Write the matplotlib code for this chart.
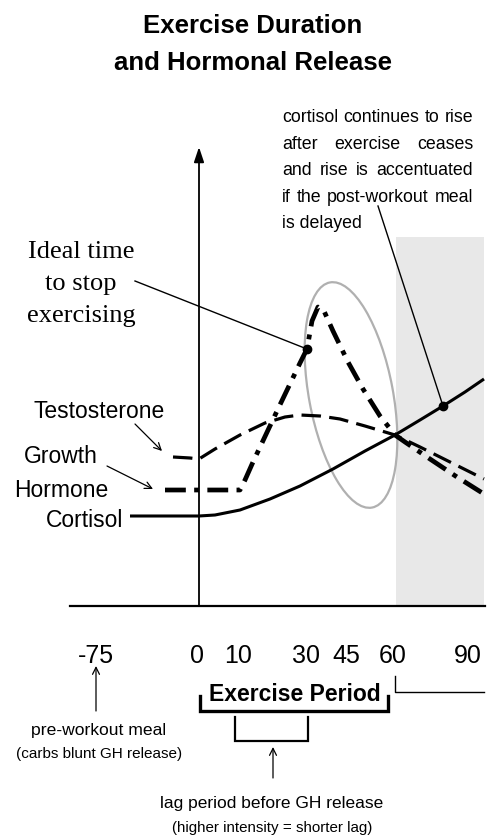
import matplotlib
matplotlib.use("Agg")
import matplotlib.pyplot as plt
from matplotlib.patches import Ellipse, Rectangle

plt.rcParams['font.family'] = ['Liberation Sans', 'DejaVu Sans']
plt.rcParams['lines.scale_dashes'] = False

# schematic curves (x = position along time axis, y = level, screen units)
cortisol_x = [130, 199, 215, 240, 270, 300, 333, 365, 395, 420, 443, 465, 484]
cortisol_y = [517, 517, 516, 511, 500, 487, 470, 452, 436, 421, 407, 393, 380]

testo_x = [173, 190, 199, 215, 240, 265, 285, 300, 320, 340, 365, 395, 420, 450, 484]
testo_y = [458, 459, 460, 450, 436, 424, 418, 416, 417, 420, 427, 436, 448, 463, 480]

gh_x = [165, 240, 245, 253, 277, 300, 307, 312, 318, 324, 333, 348, 363, 380, 395, 405, 430, 457, 484]
gh_y = [491, 491, 481, 463, 412, 364, 350, 322, 308, 312, 332, 363, 390, 417, 436, 443, 460, 478, 495]

tick_labels = ['-75', '0', '10', '30', '45', '60', '90']
tick_x = [96, 197, 238, 306, 346, 393, 468]

note_lines = ["cortisol continues to rise",
              "after exercise ceases",
              "and rise is accentuated",
              "if the post-workout meal",
              "is delayed"]

fig = plt.figure(figsize=(4.87, 8.37), dpi=100)
ax = fig.add_axes([0, 0, 1, 1])
ax.set_xlim(0, 487)
ax.set_ylim(837, 0)
ax.axis('off')

# post-exercise shaded band
ax.add_patch(Rectangle((396, 238), 88, 370, color='#e8e8e8', lw=0, zorder=0))

# axes
ax.plot([70, 485], [607, 607], color='black', lw=1.6)
ax.annotate('', xy=(199, 148), xytext=(199, 607),
            arrowprops=dict(arrowstyle='-|>,head_length=0.9,head_width=0.3',
                            color='black', lw=1.3, shrinkA=0, shrinkB=0))

# ellipse around GH peak
ax.add_patch(Ellipse((351, 396), 229, 84, angle=79.4, fill=False,
                     ec='#b0b0b0', lw=1.6, zorder=1))

# curves
ax.plot(cortisol_x, cortisol_y, color='black', lw=2.2, solid_capstyle='butt')
ax.plot(testo_x, testo_y, color='black', lw=2.3, dashes=(14, 6))
ax.plot(gh_x, gh_y, color='black', lw=3.4, dashes=(15, 6, 3.5, 6))

# markers
ax.plot([307], [350], 'o', color='black', ms=6)
ax.plot([443], [407], 'o', color='black', ms=6)

# title
ax.text(253, 33, 'Exercise Duration', ha='center', va='baseline',
        fontsize=18.5, fontweight='bold')
ax.text(253, 70, 'and Hormonal Release', ha='center', va='baseline',
        fontsize=18.5, fontweight='bold')

# justified note about cortisol
fig.canvas.draw()
renderer = fig.canvas.get_renderer()
left, right = 282, 473
inv = ax.transData.inverted()
for i, line in enumerate(note_lines):
    yb = 122 + i * 26.5
    words = line.split()
    if i == len(note_lines) - 1:
        ax.text(left, yb, line, ha='left', va='baseline', fontsize=12.8)
        continue
    arts = [ax.text(0, yb, w, ha='left', va='baseline', fontsize=12.8) for w in words]
    widths = []
    for a in arts:
        bb = a.get_window_extent(renderer)
        widths.append(bb.width)
    gap = (right - left - sum(widths)) / (len(words) - 1)
    x = left
    for a, w in zip(arts, widths):
        a.set_x(x)
        x += w + gap
ax.plot([378, 443], [207, 407], color='black', lw=1.0)

# ideal time callout
ax.text(81, 258, 'Ideal time', ha='center', va='baseline', fontsize=19,
        family=['Liberation Serif', 'DejaVu Serif'])
ax.text(81, 290, 'to stop', ha='center', va='baseline', fontsize=19,
        family=['Liberation Serif', 'DejaVu Serif'])
ax.text(81, 322, 'exercising', ha='center', va='baseline', fontsize=19,
        family=['Liberation Serif', 'DejaVu Serif'])
ax.plot([135, 307], [282, 350], color='black', lw=1.0)

# curve labels
thin = dict(arrowstyle='->,head_length=0.5,head_width=0.25', color='black',
            lw=0.9, shrinkA=0, shrinkB=0)
ax.text(99, 418, 'Testosterone', ha='center', va='baseline', fontsize=16.5)
ax.annotate('', xy=(162, 452), xytext=(135, 425), arrowprops=thin)
ax.text(61, 463, 'Growth', ha='center', va='baseline', fontsize=16.5)
ax.text(61, 497, 'Hormone', ha='center', va='baseline', fontsize=16.5)
ax.annotate('', xy=(153, 490), xytext=(107, 467), arrowprops=thin)
ax.text(123, 527, 'Cortisol', ha='right', va='baseline', fontsize=16.5)

# time labels
for lab, x in zip(tick_labels, tick_x):
    ax.text(x, 663, lab, ha='center', va='baseline', fontsize=18)

# exercise period bracket
ax.text(295, 701, 'Exercise Period', ha='center', va='baseline',
        fontsize=16.5, fontweight='bold')
ax.plot([200, 200, 388, 388], [697, 712, 712, 697], color='black', lw=2.4,
        solid_joinstyle='miter')
ax.plot([395, 395, 484], [677, 693, 693], color='black', lw=1.0)

# lag bracket
ax.plot([235, 235, 308, 308], [718, 742, 742, 718], color='black', lw=1.6,
        solid_joinstyle='miter')
ax.annotate('', xy=(273, 748), xytext=(273, 779), arrowprops=thin)
ax.text(272, 808, 'lag period before GH release', ha='center', va='baseline',
        fontsize=12.5)
ax.text(272, 832, '(higher intensity = shorter lag)', ha='center', va='baseline',
        fontsize=10.9)

# pre-workout meal
ax.annotate('', xy=(96, 667), xytext=(96, 712), arrowprops=thin)
ax.text(99, 735, 'pre-workout meal', ha='center', va='baseline', fontsize=12.6)
ax.text(99, 758, '(carbs blunt GH release)', ha='center', va='baseline',
        fontsize=11)

fig.savefig('out.png', dpi=100)
